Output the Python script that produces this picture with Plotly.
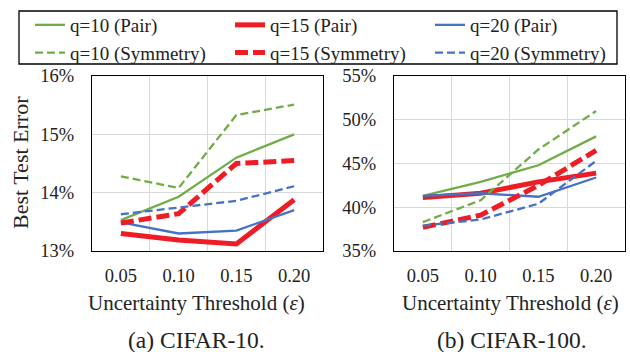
import plotly.graph_objects as go

# ---- data ----
thresholds = ["0.05", "0.10", "0.15", "0.20"]

c10_q10_pair = [13.53, 13.93, 14.60, 15.00]
c10_q15_pair = [13.30, 13.19, 13.12, 13.88]
c10_q20_pair = [13.49, 13.30, 13.35, 13.70]
c10_q10_sym = [14.28, 14.08, 15.33, 15.51]
c10_q15_sym = [13.48, 13.64, 14.50, 14.55]
c10_q20_sym = [13.63, 13.74, 13.86, 14.11]

c100_q10_pair = [41.3, 42.9, 44.8, 48.1]
c100_q15_pair = [41.1, 41.6, 42.9, 43.9]
c100_q20_pair = [41.3, 41.6, 41.2, 43.4]
c100_q10_sym = [38.3, 40.8, 46.6, 51.0]
c100_q15_sym = [37.7, 39.1, 42.5, 46.5]
c100_q20_sym = [37.9, 38.6, 40.4, 45.3]

names = ["q=10 (Pair)", "q=15 (Pair)", "q=20 (Pair)",
         "q=10 (Symmetry)", "q=15 (Symmetry)", "q=20 (Symmetry)"]

GREEN = "#70AD47"
RED = "#EE1C25"
BLUE = "#4472C4"
colors = [GREEN, RED, BLUE, GREEN, RED, BLUE]
widths = [2.3, 5, 2.3, 2.3, 5, 2.3]
dashes = ["solid", "solid", "solid", "8px,4px", "13px,5px", "8px,4px"]

left_series = [c10_q10_pair, c10_q15_pair, c10_q20_pair, c10_q10_sym, c10_q15_sym, c10_q20_sym]
right_series = [c100_q10_pair, c100_q15_pair, c100_q20_pair, c100_q10_sym, c100_q15_sym, c100_q20_sym]

FONT = "'Liberation Serif', 'Times New Roman', Times, 'DejaVu Serif', serif"
W, H = 630, 352

fig = go.Figure()
for i in range(6):
    fig.add_trace(go.Scatter(x=thresholds, y=left_series[i], mode="lines", name=names[i],
                             line=dict(color=colors[i], width=widths[i], dash=dashes[i]),
                             xaxis="x", yaxis="y", showlegend=True))
for i in range(6):
    fig.add_trace(go.Scatter(x=thresholds, y=right_series[i], mode="lines", name=names[i],
                             line=dict(color=colors[i], width=widths[i], dash=dashes[i]),
                             xaxis="x2", yaxis="y2", showlegend=False))

ydom = [1 - 251 / H, 1 - 76 / H]
axis_common = dict(showline=True, linecolor="black", linewidth=1.3, mirror=True,
                   showgrid=True, gridcolor="#D9D9D9", gridwidth=1, zeroline=False,
                   ticks="", automargin=False, tickfont=dict(family=FONT, size=18.5, color="#222"))

def ann(text, x, y, size, angle=0):
    return dict(text=text, x=x / W, y=1 - y / H, xref="paper", yref="paper",
                xanchor="center", yanchor="middle", textangle=angle, showarrow=False,
                font=dict(family=FONT, size=size, color="#222"))

xrange = [-0.5, len(thresholds) - 0.5]

fig.update_layout(
    width=W, height=H,
    margin=dict(l=0, r=0, t=0, b=0),
    paper_bgcolor="white", plot_bgcolor="white",
    font=dict(family=FONT, color="#222"),
    xaxis=dict(domain=[92 / W, 323 / W], anchor="y", type="category", tickson="boundaries",
               range=xrange, ticklabelstandoff=8, **axis_common),
    yaxis=dict(domain=ydom, anchor="x", range=[13, 16], dtick=1, ticksuffix="%",
               ticklabelstandoff=13, **axis_common),
    xaxis2=dict(domain=[394 / W, 625 / W], anchor="y2", type="category", tickson="boundaries",
                range=xrange, ticklabelstandoff=8, **axis_common),
    yaxis2=dict(domain=ydom, anchor="x2", range=[35, 55], dtick=5, ticksuffix="%",
                ticklabelstandoff=13, **axis_common),
    legend=dict(orientation="h", x=36 / W, y=1 - 6 / H, xanchor="left", yanchor="top",
                borderwidth=0, bgcolor="rgba(0,0,0,0)",
                font=dict(family=FONT, size=19, color="#222"),
                entrywidth=155, entrywidthmode="pixels", tracegroupgap=0, itemwidth=30),
    shapes=[dict(type="rect", xref="paper", yref="paper", x0=19 / W, x1=617 / W,
                 y0=1 - 64 / H, y1=1 - 11 / H, line=dict(color="black", width=1.3),
                 fillcolor="rgba(0,0,0,0)", layer="above")],
    annotations=[
        ann("Best Test Error", 20, 163, 22, -90),
        ann("Uncertainty Threshold (<i>ε</i>)", 196, 303, 21),
        ann("Uncertainty Threshold (<i>ε</i>)", 510, 303, 21),
        ann("(a) CIFAR-10.", 196, 340, 23.5),
        ann("(b) CIFAR-100.", 512, 340, 23.5),
    ],
)

fig.write_html("out.html", config={"displayModeBar": False},
               post_script="document.body.style.margin='0px';")
